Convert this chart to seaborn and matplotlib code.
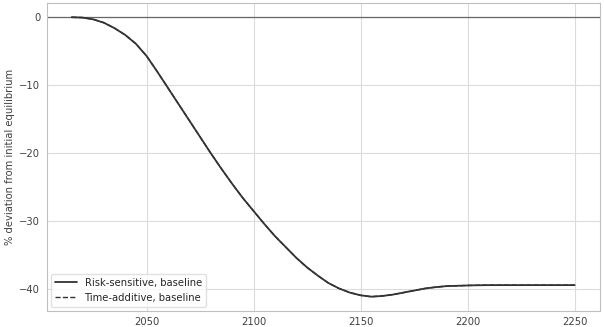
import numpy as np
import pandas as pd
import matplotlib
matplotlib.use("Agg")
import matplotlib.pyplot as plt
import seaborn as sns

years = list(range(2015, 2255, 5))
risk_sensitive = [0.0, -0.05, -0.3, -0.8, -1.6, -2.6, -3.9, -5.7, -8.0, -10.4,
                  -12.8, -15.2, -17.6, -20.0, -22.3, -24.5, -26.6, -28.5, -30.4, -32.2,
                  -33.8, -35.4, -36.8, -38.0, -39.1, -39.9, -40.5, -40.9, -41.1, -41.0,
                  -40.8, -40.5, -40.2, -39.9, -39.7, -39.55, -39.5, -39.45, -39.42, -39.4,
                  -39.4, -39.4, -39.4, -39.4, -39.4, -39.4, -39.4, -39.4]
time_additive = [0.0, -0.05, -0.3, -0.8, -1.6, -2.6, -3.9, -5.7, -8.0, -10.4,
                 -12.8, -15.2, -17.6, -20.0, -22.3, -24.5, -26.6, -28.5, -30.4, -32.2,
                 -33.8, -35.4, -36.8, -38.0, -39.1, -39.9, -40.5, -40.9, -41.1, -41.0,
                 -40.8, -40.5, -40.2, -39.9, -39.7, -39.55, -39.5, -39.45, -39.42, -39.4,
                 -39.4, -39.4, -39.4, -39.4, -39.4, -39.4, -39.4, -39.4]
labels = ["Risk-sensitive, baseline", "Time-additive, baseline"]
ylabel = "% deviation from initial equilibrium"

sns.set_theme(style="whitegrid")
plt.rcParams['font.family'] = ['DejaVu Sans']

fig, ax = plt.subplots(figsize=(6.04, 3.27), dpi=100)
df1 = pd.DataFrame({"year": years, "val": risk_sensitive})
df2 = pd.DataFrame({"year": years, "val": time_additive})
sns.lineplot(data=df1, x="year", y="val", ax=ax, color="0.2", lw=1.3,
             label=labels[0])
sns.lineplot(data=df2, x="year", y="val", ax=ax, color="0.2", lw=1.0,
             linestyle="--", label=labels[1])
ax.axhline(0, color="0.4", lw=0.9, zorder=1)

ax.set_xlabel("")
ax.set_ylabel(ylabel, fontsize=7.2, color="0.25", labelpad=3)
ax.set_xticks([2050, 2100, 2150, 2200, 2250])
ax.set_yticks([0, -10, -20, -30, -40])
ax.tick_params(labelsize=7.2, colors="0.25", length=2.5, width=0.6, pad=2)
ax.grid(color="0.86", lw=0.8)
for s in ax.spines.values():
    s.set_color("0.75")
    s.set_linewidth(0.8)
leg = ax.legend(loc="lower left", fontsize=7.2, frameon=True,
                borderaxespad=0.4, handlelength=2.2)
leg.get_frame().set_edgecolor("0.85")

fig.subplots_adjust(left=0.077, right=0.993, top=0.99, bottom=0.05)
fig.savefig("out.png", dpi=100)
